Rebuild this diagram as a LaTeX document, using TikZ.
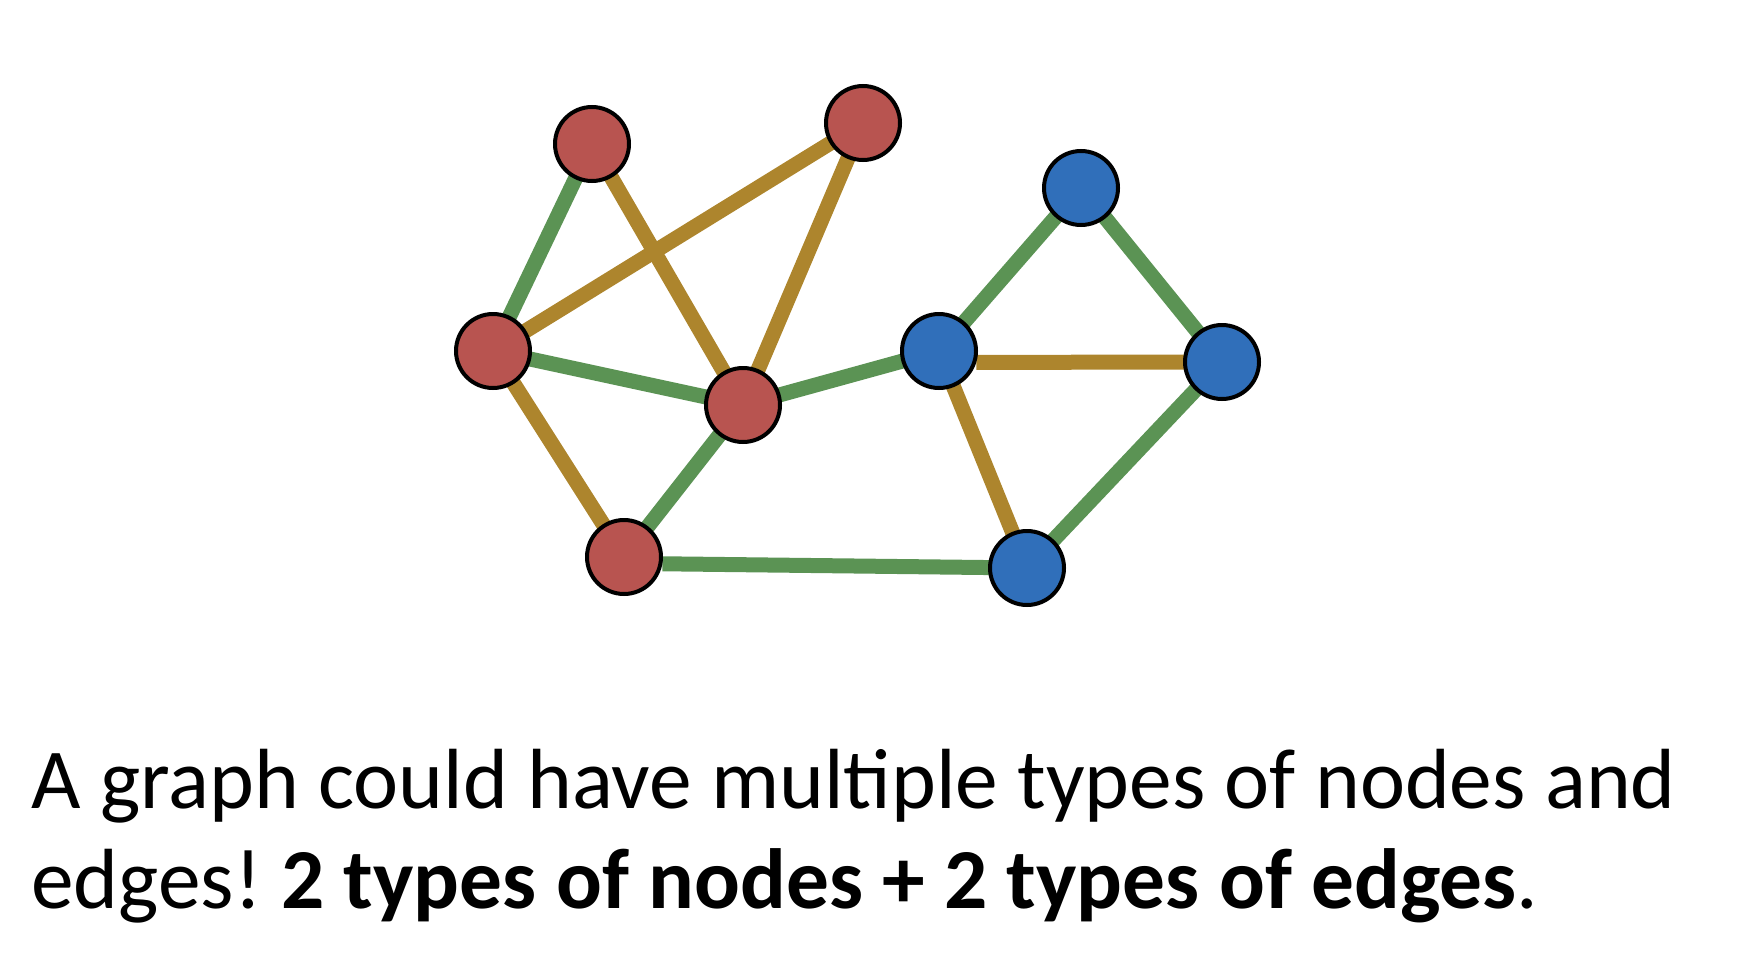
\documentclass[tikz,border=0pt]{standalone}
\usepackage{fontspec}
\setmainfont{Carlito}
\usepackage{tikz}
\usetikzlibrary{positioning,backgrounds}
\definecolor{nodered}{RGB}{184,84,80}
\definecolor{nodeblue}{RGB}{48,111,186}
\definecolor{edgegreen}{RGB}{91,147,84}
\definecolor{edgegold}{RGB}{173,133,45}
\frenchspacing

\begin{document}
\begin{tikzpicture}[
    x=0.5pt, y=-0.5pt,
    vert/.style={circle, draw=black, line width=2pt, minimum size=37pt, inner sep=0pt},
    redv/.style={vert, fill=nodered},
    bluev/.style={vert, fill=nodeblue},
    gedge/.style={edgegreen, line width=7.5pt},
    yedge/.style={edgegold, line width=7.5pt},
    caption/.style={anchor=base west, inner sep=0pt, font=\fontsize{42.7}{52}\selectfont}
]
    \useasboundingbox (0,0) rectangle (1744,974);
    % red nodes
    \node[redv] (r1) at (592,144) {};
    \node[redv] (r2) at (863,123) {};
    \node[redv] (r3) at (493,351) {};
    \node[redv] (r4) at (743,405) {};
    \node[redv] (r5) at (624,557) {};
    % blue nodes
    \node[bluev] (b1) at (1081,188) {};
    \node[bluev] (b2) at (939,351) {};
    \node[bluev] (b3) at (1222,362) {};
    \node[bluev] (b4) at (1027,568) {};
    % edges, behind the nodes
    \begin{scope}[on background layer]
    \draw[gedge] (r1.center) -- (r3.center);
    \draw[yedge] (r1.center) -- (r4.center);
    \draw[yedge] (r3.center) -- (r2.center);
    \draw[yedge] (r2.center) -- (r4.center);
    \draw[gedge] (r3.center) -- (r4.center);
    \draw[yedge] (r3.center) -- (r5.center);
    \draw[gedge] (r5.center) -- (r4.center);
    \draw[gedge] (r4.center) -- (b2.center);
    \draw[gedge] (r5.-10) -- (b4.center);
    \draw[gedge] (b2.center) -- (b1.center);
    \draw[gedge] (b1.center) -- (b3.center);
    \draw[yedge] (b2.-17) -- (b3.center);
    \draw[yedge] (b2.center) -- (b4.center);
    \draw[gedge] (b3.center) -- (b4.center);
    \end{scope}
    % caption
    \node[caption] (line1) at (31,808) {A graph could have multiple types of nodes and};
    \node[caption] (line2) at (31,908) {edges! \textbf{2 types of nodes + 2 types of edges}.};
\end{tikzpicture}
\end{document}
